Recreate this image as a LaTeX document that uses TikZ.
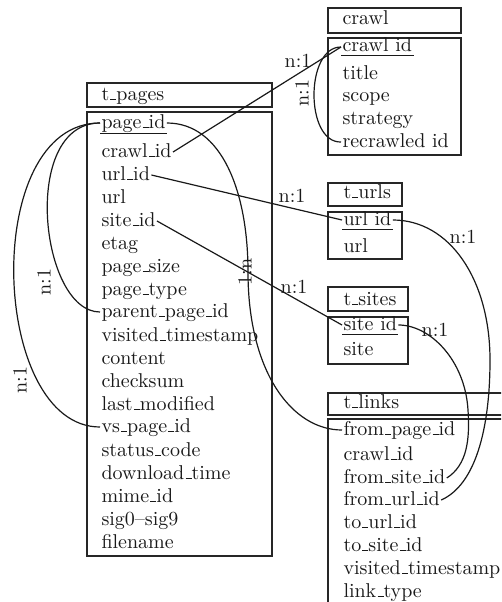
\documentclass[tikz,border=0pt]{standalone}
% Latin Modern Roman 10 design size, set at 20pt
\font\fldfont="[lmroman10-regular]:mapping=tex-text" at 20pt
% Computer Modern style underscore: a short rule sitting on the baseline
\newcommand\usc{\leavevmode\kern.06em\vbox{\hrule height 1pt width.3em}}
\begin{document}
\begin{tikzpicture}[x=1pt,y=-1pt,
  box/.style={draw=black!85, line width=1.4pt},
  fld/.style={anchor=base west, inner sep=0pt, outer sep=1.5pt,
    text height=14pt, text depth=4pt,
    font=\fldfont, text=black!90},
  link/.style={draw=black!90, line width=1.2pt},
  card/.style={font=\fldfont, text=black!90, inner sep=0pt},
  uline/.style={draw=black!90, line width=1pt}]
\useasboundingbox (0,0) rectangle (501,602);
\clip (0,0) rectangle (501,602);

% ---------------- table frames ----------------
\draw[box] (87,83) rectangle (272,107);
\draw[box] (87,112) rectangle (272,556);
\draw[box] (328,8) rectangle (461,33);
\draw[box] (328,38) rectangle (461,155);
\draw[box] (328,183) rectangle (402,206);
\draw[box] (328,212) rectangle (402,259);
\draw[box] (328,287) rectangle (408,311);
\draw[box] (328,317) rectangle (408,364);
\draw[box] (328,393) rectangle (520,415);
\draw[box] (328,419) rectangle (520,620);

% ---------------- t_pages ----------------
\node[fld] (hpages) at (100,100) {t\usc pages};
\node[fld] (ppage)   at (100,128) {page\usc id};
\node[fld] (pcrawl)  at (100,157) {crawl\usc id};
\node[fld] (purl)    at (100,180) {url\usc id};
\node[fld] (purlt)   at (100,203) {url};
\node[fld] (psite)   at (100,226) {site\usc id};
\node[fld] (petag)   at (100,249) {etag};
\node[fld] (psize)   at (100,272) {page\usc size};
\node[fld] (ptype)   at (100,295) {page\usc type};
\node[fld] (pparent) at (100,317) {parent\usc page\usc id};
\node[fld] (pvisit)  at (100,341) {visited\usc timestamp};
\node[fld] (pcont)   at (100,364) {content};
\node[fld] (pcheck)  at (100,387) {checksum};
\node[fld] (plast)   at (100,410) {last\usc modified};
\node[fld] (pvs)     at (100,432) {vs\usc page\usc id};
\node[fld] (pstat)   at (100,456) {status\usc code};
\node[fld] (pdown)   at (100,479) {download\usc time};
\node[fld] (pmime)   at (100,502) {mime\usc id};
\node[fld] (psig)    at (100,525) {sig0--sig9};
\node[fld] (pfile)   at (100,548) {filename};
\draw[uline] ([yshift=-5pt]ppage.base west) -- ([yshift=-5pt]ppage.base east);

% ---------------- crawl ----------------
\node[fld] (hcrawl) at (341,25) {crawl};
\node[fld] (ccrawl) at (341,52) {crawl id};
\node[fld] (ctitle) at (341,79) {title};
\node[fld] (cscope) at (341,101) {scope};
\node[fld] (cstrat) at (341,124) {strategy};
\node[fld] (crecr)  at (341,147) {recrawled id};
\draw[uline] ([yshift=-4pt]ccrawl.base west) -- ([yshift=-4pt]ccrawl.base east);

% ---------------- t_urls ----------------
\node[fld] (hurls) at (342,198) {t\usc urls};
\node[fld] (uid)   at (342,225) {url id};
\node[fld] (uurl)  at (342,252) {url};
\draw[uline] ([yshift=-4pt]uid.base west) -- ([yshift=-4pt]uid.base east);

% ---------------- t_sites ----------------
\node[fld] (hsites) at (342,305) {t\usc sites};
\node[fld] (sid)    at (342,330) {site id};
\node[fld] (ssite)  at (342,355) {site};
\draw[uline] ([yshift=-4pt]sid.base west) -- ([yshift=-4pt]sid.base east);

% ---------------- t_links ----------------
\node[fld] (hlinks) at (342,408) {t\usc links};
\node[fld] (lfrom)  at (342,435) {from\usc page\usc id};
\node[fld] (lcrawl) at (342,460) {crawl\usc id};
\node[fld] (lfsite) at (342,483) {from\usc site\usc id};
\node[fld] (lfurl)  at (342,505) {from\usc url\usc id};
\node[fld] (lturl)  at (342,528) {to\usc url\usc id};
\node[fld] (ltsite) at (342,551) {to\usc site\usc id};
\node[fld] (lvisit) at (342,574) {visited\usc timestamp};
\node[fld] (ltype)  at (342,597) {link\usc type};

% ---------------- relations ----------------
\draw[link] (pcrawl.east) -- (ccrawl.west);
\draw[link] (purl.east) -- (uid.west);
\draw[link] (psite.east) -- (sid.west);
\draw[link] (crecr.west) .. controls (305,143) and (305,47) .. (ccrawl.west);
\draw[link] (ppage.east) .. controls +(55,0) and +(0,-80) .. (248,272)
            .. controls +(0,100) and +(-50,0) .. (lfrom.west);
\draw[link] (pparent.west) .. controls (40,312) and (20,123) .. (ppage.west);
\draw[link] (pvs.west) .. controls (-10,427) and (-20,123) .. (ppage.west);
\draw[link] (uid.east) .. controls (450,220) and (490,280) .. (490,360)
            .. controls (490,430) and (475,485) .. (lfurl.east);
\draw[link] (sid.east) .. controls (430,325) and (465,360) .. (468,410)
            .. controls (470,440) and (467,465) .. (lfsite.east);

% ---------------- cardinalities ----------------
\node[card] (k1) at (298,61) {n:1};
\node[card, rotate=90] (k2) at (302,93) {n:1};
\node[card] (k3) at (292,196) {n:1};
\node[card] (k4) at (294,287) {n:1};
\node[card, rotate=90] (k5) at (245,272) {1:n};
\node[card, rotate=90] (k6) at (44,282) {n:1};
\node[card, rotate=90] (k7) at (20,380) {n:1};
\node[card] (k8) at (463,237) {n:1};
\node[card] (k9) at (435,330) {n:1};
\end{tikzpicture}
\end{document}
